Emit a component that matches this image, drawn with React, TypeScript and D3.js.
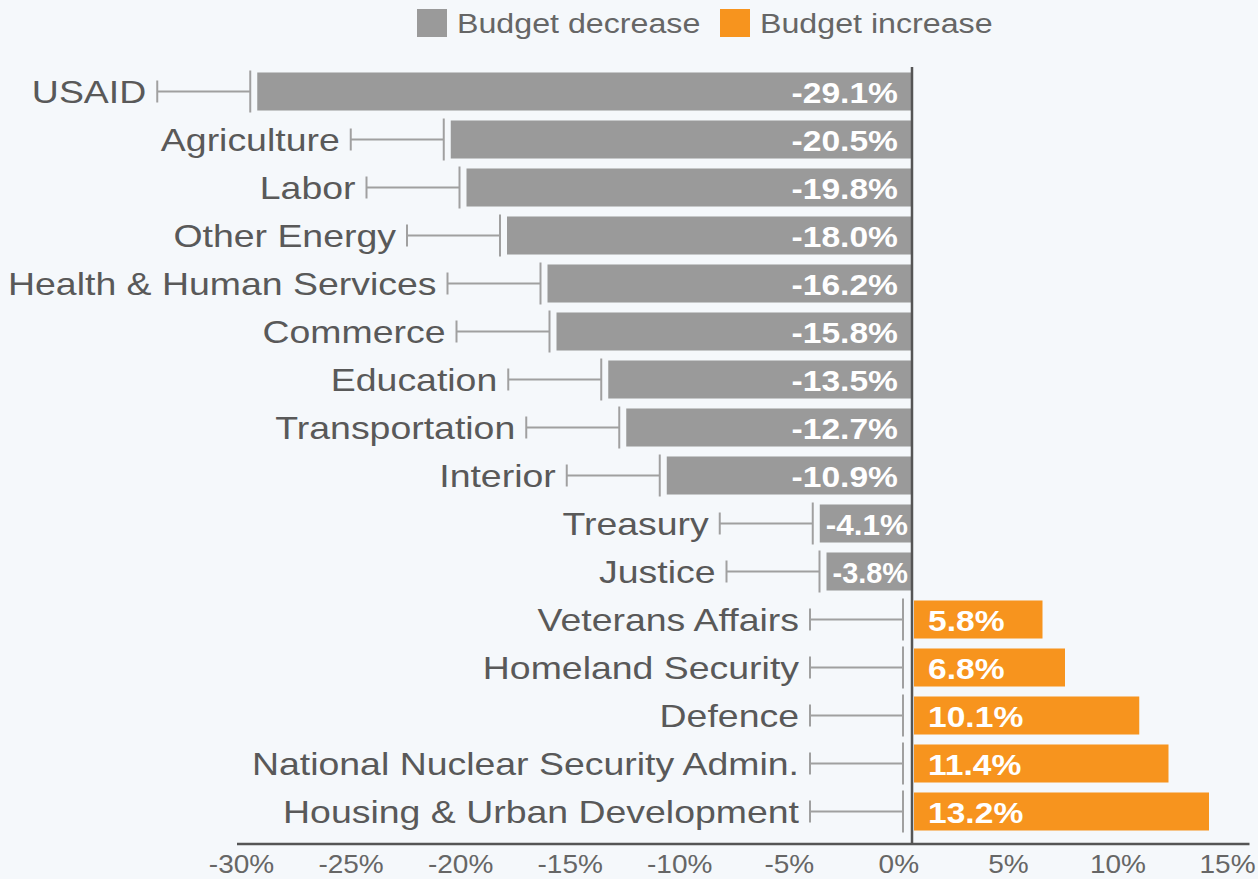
import * as d3 from "d3";
import React, { useEffect, useRef } from "react";

const departments = [
  "USAID",
  "Agriculture",
  "Labor",
  "Other Energy",
  "Health & Human Services",
  "Commerce",
  "Education",
  "Transportation",
  "Interior",
  "Treasury",
  "Justice",
  "Veterans Affairs",
  "Homeland Security",
  "Defence",
  "National Nuclear Security Admin.",
  "Housing & Urban Development",
];
const changes = [
  -29.1, -20.5, -19.8, -18.0, -16.2, -15.8, -13.5, -12.7, -10.9, -4.1, -3.8,
  5.8, 6.8, 10.1, 11.4, 13.2,
];
const axisTicks = [-30, -25, -20, -15, -10, -5, 0, 5, 10, 15];
const legendLabels = ["Budget decrease", "Budget increase"];

const W = 1258;
const H = 879;
const FONT = "'Liberation Sans', Arial, Helvetica, sans-serif";
const SX = 1.17; // the source image is stretched a bit horizontally
const GREY = "#9a9a9a";
const ORANGE = "#f7941e";

const App = () => {
  const svgRef = useRef<SVGSVGElement>(null);

  useEffect(() => {
    const svg = d3.select(svgRef.current);
    svg.selectAll("*").remove();

    const rows = departments.map((name, i) => ({ name, value: changes[i] }));

    const x = d3.scaleLinear().domain([-30, 15]).range([237, 1249.5]);
    const tickX = d3.scaleLinear().domain([-30, 15]).range([241, 1227]);
    const y = d3
      .scaleBand()
      .domain(departments)
      .range([67.5, 835.5])
      .paddingInner(0.208)
      .paddingOuter(0.104);

    svg.append("rect").attr("width", W).attr("height", H).attr("fill", "#f5f8fb");

    // legend
    const legend = svg.append("g");
    legendLabels.forEach((lab, i) => {
      const lx = i === 0 ? 417 : 720;
      legend
        .append("rect")
        .attr("x", lx)
        .attr("y", 9)
        .attr("width", 30)
        .attr("height", 28)
        .attr("fill", i === 0 ? GREY : ORANGE);
      legend
        .append("text")
        .attr("transform", `translate(${lx + 40},33) scale(1.15,1)`)
        .style("font-family", FONT)
        .style("font-size", "28px")
        .attr("fill", "#666")
        .text(lab);
    });

    const g = svg.append("g");

    const row = g
      .selectAll("g.row")
      .data(rows)
      .join("g")
      .attr("class", "row");

    // bars
    row
      .append("rect")
      .attr("x", (d) => (d.value < 0 ? x(d.value) : x(0) + 2))
      .attr("y", (d) => y(d.name)!)
      .attr("width", (d) => Math.abs(x(d.value) - x(0)) - (d.value < 0 ? 0 : 2))
      .attr("height", y.bandwidth())
      .attr("fill", (d) => (d.value < 0 ? GREY : ORANGE));

    // whiskers between label and bar
    const tallX = (d: { value: number }) =>
      d.value < 0 ? x(d.value) - 7 : x(0) - 9;
    const cy = (d: { name: string }) => y(d.name)! + y.bandwidth() / 2;

    row
      .append("line")
      .attr("x1", (d) => tallX(d) - 93)
      .attr("x2", tallX)
      .attr("y1", cy)
      .attr("y2", cy)
      .attr("stroke", "#a0a0a0")
      .attr("stroke-width", 2);
    row
      .append("line")
      .attr("x1", tallX)
      .attr("x2", tallX)
      .attr("y1", (d) => cy(d) - 21)
      .attr("y2", (d) => cy(d) + 21)
      .attr("stroke", "#a0a0a0")
      .attr("stroke-width", 2);
    row
      .append("line")
      .attr("x1", (d) => tallX(d) - 93)
      .attr("x2", (d) => tallX(d) - 93)
      .attr("y1", (d) => cy(d) - 11)
      .attr("y2", (d) => cy(d) + 11)
      .attr("stroke", "#a0a0a0")
      .attr("stroke-width", 2);

    // category labels
    row
      .append("text")
      .attr(
        "transform",
        (d) => `translate(${tallX(d) - 104},${cy(d) + 11.5}) scale(${SX},1)`
      )
      .attr("text-anchor", "end")
      .style("font-family", FONT)
      .style("font-size", "32px")
      .attr("fill", "#595959")
      .text((d) => d.name);

    // value labels
    row.each(function (d) {
      const sel = d3.select(this);
      const t = sel
        .append("text")
        .style("font-family", FONT)
        .style("font-size", "30px")
        .style("font-weight", "bold")
        .attr("fill", "#fff")
        .text(`${d.value.toFixed(1)}%`);
      if (d.value < 0) {
        const barW = x(0) - x(d.value);
        const natural = (t.node() as SVGTextElement).getComputedTextLength() * 1.12;
        if (natural > barW - 20) {
          t.attr("text-anchor", "end")
            .attr("textLength", (barW - 10) / 1.12)
            .attr("lengthAdjust", "spacingAndGlyphs")
            .attr("transform", `translate(${x(0) - 4},${cy(d) + 11}) scale(1.12,1)`);
        } else {
          t.attr("text-anchor", "end").attr(
            "transform",
            `translate(${x(0) - 14},${cy(d) + 11}) scale(1.12,1)`
          );
        }
      } else {
        t.attr("text-anchor", "start").attr(
          "transform",
          `translate(${x(0) + 16},${cy(d) + 11}) scale(1.12,1)`
        );
      }
    });

    // zero line and axis line
    svg
      .append("line")
      .attr("x1", x(0))
      .attr("x2", x(0))
      .attr("y1", 67)
      .attr("y2", 844)
      .attr("stroke", "#555")
      .attr("stroke-width", 2.5);
    svg
      .append("line")
      .attr("x1", x(-30))
      .attr("x2", x(15))
      .attr("y1", 844)
      .attr("y2", 844)
      .attr("stroke", "#555")
      .attr("stroke-width", 2.5);

    // tick labels
    const axis = svg
      .append("g")
      .attr("transform", "translate(0,848)")
      .call(
        d3
          .axisBottom(tickX)
          .tickValues(axisTicks)
          .tickSize(0)
          .tickPadding(0)
          .tickFormat((d) => `${d}%`)
      );
    axis.select(".domain").remove();
    axis
      .selectAll<SVGTextElement, number>("text")
      .attr("y", null)
      .attr("dy", null)
      .attr("transform", "translate(0,25) scale(1.12,1)")
      .style("font-family", FONT)
      .style("font-size", "25px")
      .attr("fill", "#666");
  }, []);

  return (
    <svg
      ref={svgRef}
      width={W}
      height={H}
      style={{ position: "absolute", left: 0, top: 0, display: "block" }}
    />
  );
};

export default App;
